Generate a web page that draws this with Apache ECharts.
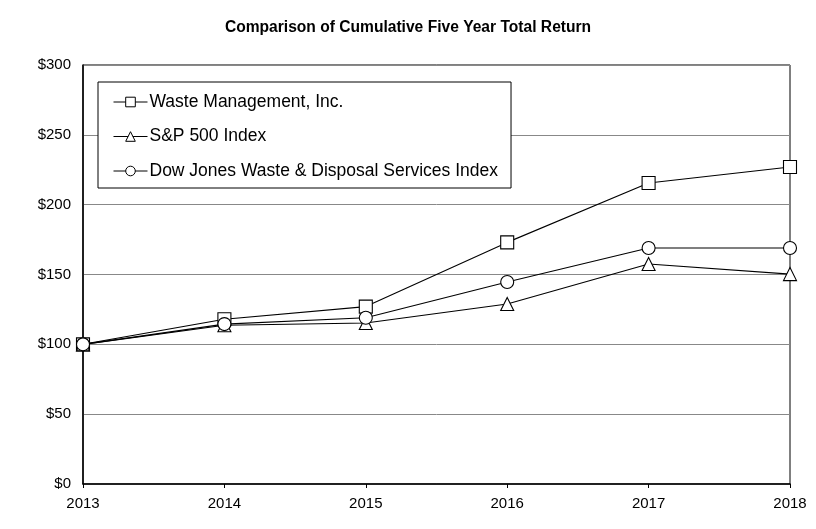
<!DOCTYPE html>
<html><head><meta charset="utf-8">
<script src="https://cdn.jsdelivr.net/npm/echarts@6/dist/echarts.min.js"></script>
<style>html,body{margin:0;padding:0;background:#fff}#c{width:816px;height:529px}</style>
</head><body><div id="c"></div>
<script>
const years = ['2013','2014','2015','2016','2017','2018'];
const wasteMgmt = [100, 118, 127, 173, 215.5, 227];
const sp500 = [100, 113.7, 115.3, 128.9, 157.5, 150.3];
const djWaste = [100, 114.5, 119, 144.6, 169, 169];
const yTicks = [0, 50, 100, 150, 200, 250, 300];

const chart = echarts.init(document.getElementById('c'), null, {renderer:'canvas'});
const font = 'Arial, "Liberation Sans", sans-serif';
function mk(name, data, symbol, size) {
  return {
    name, type:'line', data, symbol, symbolSize:size, showAllSymbol:true,
    lineStyle:{color:'#000', width:1.1},
    itemStyle:{color:'#fff', borderColor:'#000', borderWidth:1.1},
    emphasis:{disabled:true}, z: 3
  };
}
chart.setOption({
  animation:false,
  backgroundColor:'#fff',
  title:{text:'Comparison of Cumulative Five Year Total Return', left:'center', top:15,
    textStyle:{fontFamily:font, fontSize:15.6, fontWeight:'bold', color:'#000'}},
  legend:{
    orient:'vertical', left:98, top:82, itemGap:16.5, itemWidth:34, itemHeight:12,
    itemStyle:{borderWidth:1}, lineStyle:{width:1},
    padding:[11,13,8,15], borderColor:'#000', borderWidth:1, backgroundColor:'#fff',
    textStyle:{fontFamily:font, fontSize:17.5, color:'#000', padding:[0,0,0,-3]},
    data:['Waste Management, Inc.','S&P 500 Index','Dow Jones Waste & Disposal Services Index']
  },
  grid:{left:83, right:26, top:65, bottom:45, show:true, borderColor:'#000', borderWidth:1},
  xAxis:{type:'category', data:years, boundaryGap:false,
    axisLine:{lineStyle:{color:'#000', width:1.5}},
    axisTick:{show:true, length:4, inside:false, lineStyle:{color:'#000', width:1}},
    axisLabel:{fontFamily:font, fontSize:15, color:'#000', margin:12}},
  yAxis:{type:'value', min:0, max:300, interval:50,
    axisLine:{show:true, lineStyle:{color:'#000', width:1.5}}, axisTick:{show:false},
    splitLine:{lineStyle:{color:'#888', width:1}},
    axisLabel:{fontFamily:font, fontSize:15, color:'#000', margin:12,
      formatter:v => yTicks.includes(v) ? '$' + v : ''}},
  series:[
    mk('Waste Management, Inc.', wasteMgmt, 'rect', 13),
    mk('S&P 500 Index', sp500, 'triangle', 13),
    mk('Dow Jones Waste & Disposal Services Index', djWaste, 'circle', 13)
  ]
});
</script></body></html>
